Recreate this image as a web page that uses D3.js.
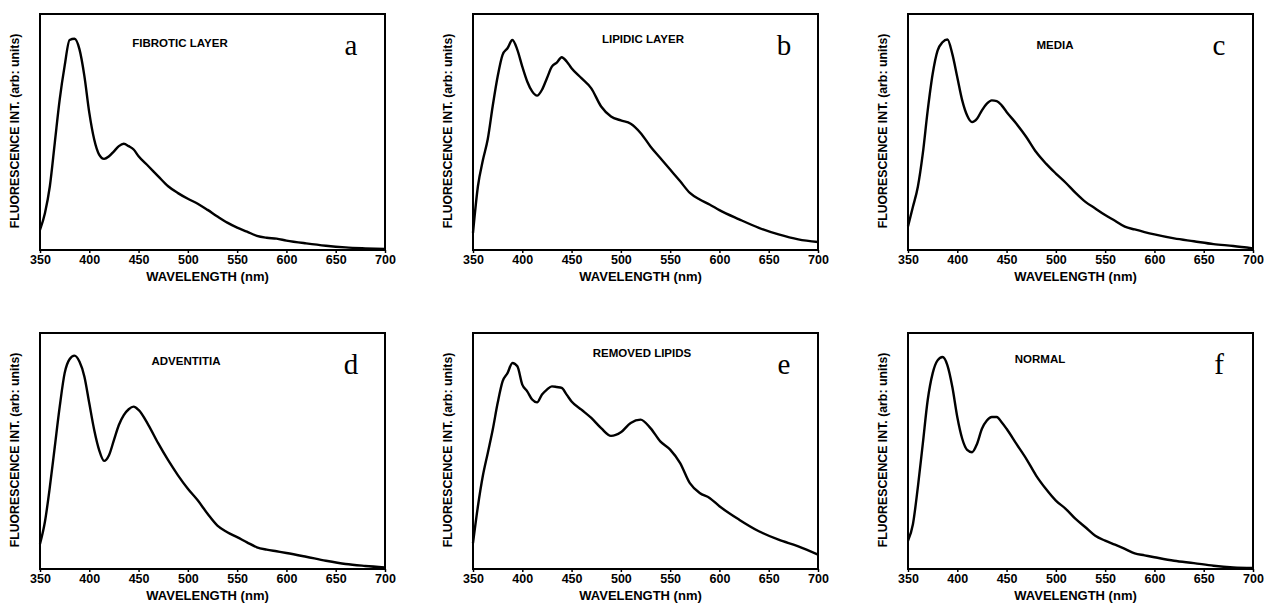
<!DOCTYPE html>
<html>
<head>
<meta charset="utf-8">
<title>Fluorescence spectra</title>
<style>
  body { margin: 0; padding: 0; background: #fff; }
  text { font-family: "Liberation Sans", Arial, sans-serif; }
</style>
</head>
<body>
<div id="chart"></div>
<script src="https://d3js.org/d3.v7.min.js"></script>
<script>
// wavelength grid (nm) shared by all six spectra
var wavelengths = [350,355,360,365,370,375,380,385,390,395,400,405,410,415,420,425,430,435,440,445,450,
                   460,470,480,490,500,510,520,530,540,550,560,570,580,590,600,620,640,660,680,700];

// intensities, arbitrary units (0-100 of frame height)
var fibrotic = [8.5,15.6,27,45.4,63.8,78,89,89.5,85.1,73.8,58.2,46.8,40.4,38.6,39.7,41.8,44,45,44,42.6,39.7,
                35.5,31.2,27,24.1,21.7,19.6,17,14.2,11.6,9.5,7.8,6,5.2,4.8,4,2.8,1.8,1.1,0.7,0.4];
var lipidic = [7.3,27,38,47,61,73.5,82.7,85.5,89,84.8,77.7,71.4,67.2,65.4,67.9,72.8,77.7,79.4,81.7,79.9,77,
               72.8,68.5,60.8,56.6,54.9,53.5,49.6,43.9,39,34.1,29.2,24.2,21.4,19.3,16.9,13,9.4,6.6,4.5,3.4];
var media = [10,18.3,26.8,40.8,59.2,74.6,84.5,88,89.2,83,73.2,63.4,57,54.2,55.6,59.2,62,63.4,63.1,61.3,58.5,
             53.5,47.9,41.5,36.6,32.4,28.5,24.2,20.4,17.6,14.8,12.4,9.9,8.7,7.6,6.6,4.9,3.7,2.5,1.7,0.7];
var adventitia = [10.6,20,34.8,51.8,68.8,83,88.9,90.4,87.9,81.6,70.2,58.9,50.4,45.8,48.2,54.6,61,65.2,67.7,68.8,67.4,
                  61,53.2,46.1,39.7,34,29.1,23.4,18.4,15.6,13.5,11.3,9.2,8.2,7.5,6.8,5.2,3.5,2.1,1.3,0.7];
var removedLipids = [11,26.6,39.5,49.2,59,70.3,79.5,83,87.3,85.9,78.1,75.3,71.8,70.6,73.9,76,77.4,77.1,76.7,73.9,71,
                     67.5,64,59.7,56.4,57.9,61.9,63.3,59.7,54.1,50.6,45,36.4,32.2,30.1,26.6,20.9,16,12.4,9.6,6.1];
var normal = [12,19,34.7,53,71.6,82.9,88.4,89.8,86.3,77.1,64.4,55.2,50.5,49.5,53,59.4,62.9,64.4,64.4,62.2,59.4,
              53,46.7,39.6,33.9,29,25.5,21.2,17.7,14.1,12,10.3,8.5,6.6,5.8,5,3.5,2.5,1.4,0.7,0.4];

var titles = ["FIBROTIC LAYER", "LIPIDIC LAYER", "MEDIA", "ADVENTITIA", "REMOVED LIPIDS", "NORMAL"];
var letters = ["a", "b", "c", "d", "e", "f"];
var xTicks = [350,400,450,500,550,600,650,700];

var series = [fibrotic, lipidic, media, adventitia, removedLipids, normal];

// layout of the 2x3 grid
var colLeft = [40, 473, 908], rowTop = [14, 333];
var pw = 345, ph = 236;
var titleOffset = [[140, 28], [170, 24], [147, 30], [146, 27], [169, 19], [132, 25]];

var svg = d3.select("#chart").append("svg")
    .attr("width", 1266)
    .attr("height", 604);

var x = d3.scaleLinear().domain([350, 700]).range([0, pw]);
var y = d3.scaleLinear().domain([0, 100]).range([ph, 0]);

var line = d3.line()
    .x(function(d, i) { return x(wavelengths[i]); })
    .y(function(d) { return y(d); })
    .curve(d3.curveMonotoneX);

series.forEach(function(vals, k) {
  var g = svg.append("g")
      .attr("transform", "translate(" + colLeft[k % 3] + "," + rowTop[Math.floor(k / 3)] + ")");

  var xAxis = g.append("g")
      .attr("transform", "translate(0," + ph + ")")
      .call(d3.axisBottom(x).tickValues(xTicks).tickSize(3).tickPadding(2).tickFormat(d3.format("d")));
  xAxis.select(".domain").remove();
  xAxis.selectAll("text")
      .style("font-size", "12.5px")
      .style("font-weight", "bold")
      .attr("fill", "#000");
  xAxis.selectAll("line").attr("stroke", "#000").attr("stroke-width", 1.5);

  g.append("path")
      .datum(vals)
      .attr("d", line)
      .attr("fill", "none")
      .attr("stroke", "#000")
      .attr("stroke-width", 2.4)
      .attr("stroke-linejoin", "round");

  g.append("rect")
      .attr("width", pw)
      .attr("height", ph)
      .attr("fill", "none")
      .attr("stroke", "#000")
      .attr("stroke-width", 2);

  g.append("text")
      .attr("x", pw / 2 - 5)
      .attr("y", ph + 31)
      .attr("text-anchor", "middle")
      .style("font-size", "13px")
      .style("font-weight", "bold")
      .text("WAVELENGTH (nm)");

  g.append("text")
      .attr("transform", "translate(-21," + (ph / 2 - 1) + ") rotate(-90)")
      .attr("text-anchor", "middle")
      .style("font-size", "12.3px")
      .style("font-weight", "bold")
      .text("FLUORESCENCE INT. (arb: units)");

  g.append("text")
      .attr("x", titleOffset[k][0])
      .attr("y", titleOffset[k][1] + 4.5)
      .attr("text-anchor", "middle")
      .style("font-size", "11.5px")
      .style("font-weight", "bold")
      .text(titles[k]);

  g.append("text")
      .attr("x", pw - 34)
      .attr("y", 41)
      .attr("text-anchor", "middle")
      .style("font-family", "'Liberation Serif', 'Times New Roman', serif")
      .style("font-size", "29px")
      .text(letters[k]);
});
</script>
</body>
</html>
